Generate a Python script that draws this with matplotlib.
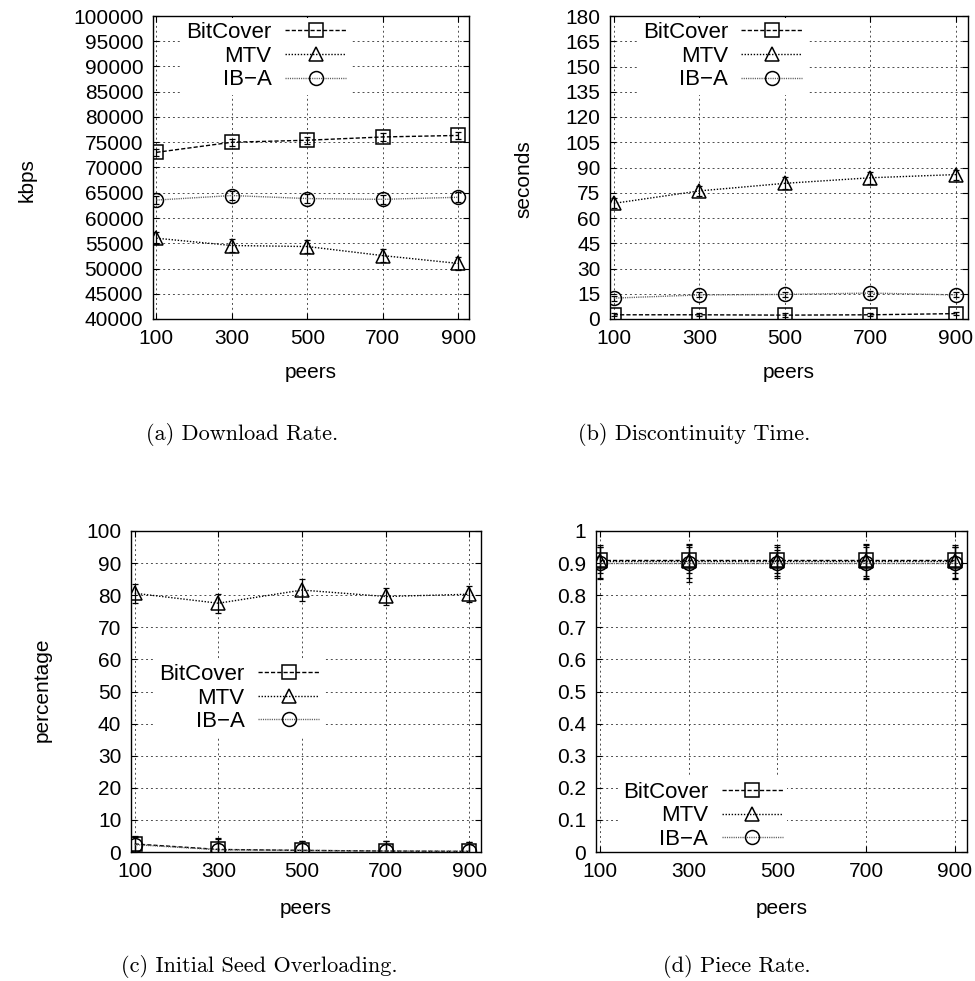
import numpy as np
import matplotlib
matplotlib.use('Agg')
import matplotlib.pyplot as plt

plt.rcParams['font.family'] = ['Liberation Sans', 'DejaVu Sans']
plt.rcParams['axes.linewidth'] = 1.0

peers = [100, 300, 500, 700, 900]
series = ['BitCover', 'MTV', 'IB\u2212A']

# (a) download rate (kbps)
rate_bitcover = [73000, 75000, 75400, 76050, 76350]
rate_mtv = [56000, 54550, 54350, 52550, 51000]
rate_iba = [63550, 64450, 63850, 63700, 64100]
rate_err_bitcover = [700, 700, 700, 800, 700]
rate_err_mtv = [1200, 1200, 1200, 1300, 1200]
rate_err_iba = [800, 800, 900, 900, 1000]

# (b) discontinuity time (seconds)
disc_bitcover = [2.5, 2.5, 2.3, 2.5, 3.2]
disc_mtv = [68.7, 76.1, 80.6, 83.9, 85.8]
disc_iba = [12.4, 14.3, 14.6, 15.4, 14.3]
disc_err_bitcover = [1.0, 1.0, 1.0, 1.0, 1.0]
disc_err_mtv = [3.0, 3.0, 3.5, 3.5, 3.0]
disc_err_iba = [1.5, 1.5, 1.5, 1.5, 1.5]

# (c) initial seed overloading (percentage)
seed_bitcover = [2.5, 0.8, 0.5, 0.3, 0.2]
seed_mtv = [80.6, 77.5, 81.6, 79.6, 80.3]
seed_iba = [2.3, 0.7, 0.5, 0.3, 0.2]
seed_err_bitcover = [2.5, 3.5, 3.0, 3.0, 2.8]
seed_err_mtv = [3.0, 3.0, 3.5, 2.5, 2.5]
seed_err_iba = [2.5, 3.5, 3.0, 3.0, 2.8]

# (d) piece rate
piece_bitcover = [0.91, 0.91, 0.91, 0.91, 0.91]
piece_mtv = [0.905, 0.905, 0.905, 0.905, 0.905]
piece_iba = [0.90, 0.90, 0.90, 0.90, 0.90]
piece_err_bitcover = [0.04, 0.04, 0.04, 0.05, 0.04]
piece_err_mtv = [0.05, 0.05, 0.05, 0.05, 0.05]
piece_err_iba = [0.05, 0.06, 0.04, 0.05, 0.05]

styles = {
    'BitCover': dict(marker='s', dashes=(3, 1.5), color='black'),
    'MTV': dict(marker='^', dashes=(1, 1.2), color='black'),
    'IB\u2212A': dict(marker='o', dashes=(0.8, 0.8), color='0.35'),
}

fs = 15

def draw_panel(rect, vals, errs, ylim, yticks, ylabel, ylab_xy, caption, cap_xy,
               leg_anchor, leg_loc, peers_y):
    ax = fig.add_axes(rect)
    for name, v, e in zip(series, vals, errs):
        st = styles[name]
        ax.errorbar(peers, v, yerr=e, fmt='none', ecolor='black',
                    elinewidth=0.9, capsize=2.5, capthick=0.9, zorder=3)
        ax.plot(peers, v, color=st['color'], dashes=st['dashes'], lw=1.0,
                marker=st['marker'], markersize=10, markerfacecolor='none',
                markeredgecolor='black', markeredgewidth=1.1, label=name,
                zorder=4)
    ax.set_xlim(91, 928)
    ax.set_ylim(*ylim)
    ax.set_xticks(peers)
    ax.set_yticks(yticks)
    ax.grid(True, color='0.3', linestyle=(0, (2, 3)), linewidth=0.7)
    ax.tick_params(direction='in', top=True, right=True, labelsize=fs,
                   length=4, pad=7)
    if ylabel:
        ax.set_ylabel(ylabel, fontsize=fs)
        ax.yaxis.set_label_coords(*ylab_xy)
    ax.set_xlabel('peers', fontsize=fs)
    ax.xaxis.set_label_coords(0.5, peers_y)
    ax.xaxis.label.set_va('center')
    leg = ax.legend(loc=leg_loc, bbox_to_anchor=leg_anchor, markerfirst=False,
                    fontsize=16, handlelength=2.75, handletextpad=0.6,
                    labelspacing=0.12, borderpad=0.2, borderaxespad=0,
                    frameon=True, fancybox=False, edgecolor='none',
                    facecolor='white', framealpha=1.0)
    # keep the opaque key box under the axes frame
    leg.set_zorder(2.4)
    fig.text(cap_xy[0], cap_xy[1], caption, fontsize=16, family='cmr10',
             ha='center', va='center')
    return ax

fig = plt.figure(figsize=(9.75, 9.81), dpi=100)

W, H = 975., 981.

draw_panel([153/W, 1-319/H, 316/W, 303/H],
           [rate_bitcover, rate_mtv, rate_iba],
           [rate_err_bitcover, rate_err_mtv, rate_err_iba],
           (40000, 100000), np.arange(40000, 100001, 5000), 'kbps',
           (-0.368, 0.46), '(a) Download Rate.', (242/W, 1-434/H),
           (0.625, 0.995), 'upper right', -54/303)

draw_panel([610/W, 1-319/H, 358/W, 303/H],
           [disc_bitcover, disc_mtv, disc_iba],
           [disc_err_bitcover, disc_err_mtv, disc_err_iba],
           (0, 180), np.arange(0, 181, 15), 'seconds',
           (-0.215, 0.46), '(b) Discontinuity Time.', (694/W, 1-434/H),
           (0.55, 0.995), 'upper right', -54/303)

draw_panel([131/W, 1-852/H, 350/W, 321/H],
           [seed_bitcover, seed_mtv, seed_iba],
           [seed_err_bitcover, seed_err_mtv, seed_err_iba],
           (0, 100), np.arange(0, 101, 10), 'percentage',
           (-0.228, 0.505), '(c) Initial Seed Overloading.', (259/W, 1-967/H),
           (0.55, 0.60), 'upper right', -56/321)

draw_panel([596/W, 1-852/H, 371/W, 321/H],
           [piece_bitcover, piece_mtv, piece_iba],
           [piece_err_bitcover, piece_err_mtv, piece_err_iba],
           (0, 1), np.round(np.arange(0, 1.01, 0.1), 1), None,
           None, '(d) Piece Rate.', (737/W, 1-967/H),
           (0.515, -0.008), 'lower right', -56/321)

fig.axes[3].set_yticklabels(['0', '0.1', '0.2', '0.3', '0.4', '0.5', '0.6',
                             '0.7', '0.8', '0.9', '1'])

plt.savefig('out.png', dpi=100)
